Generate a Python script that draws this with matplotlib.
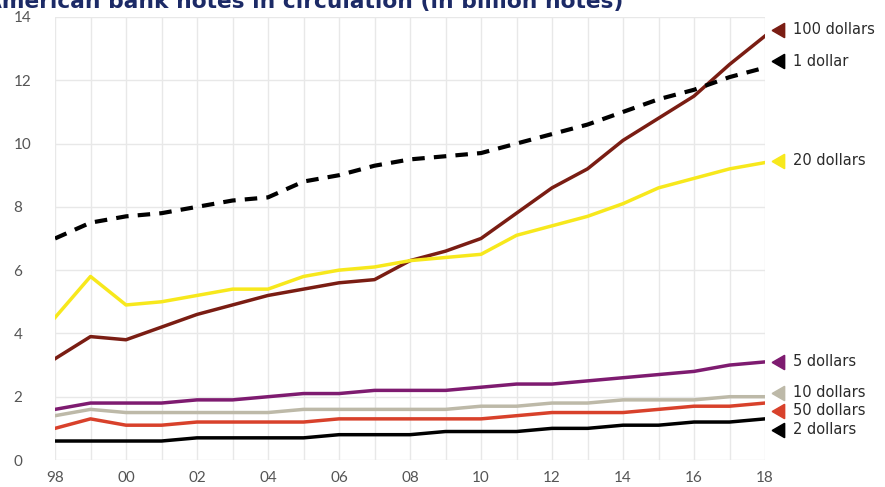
import matplotlib
matplotlib.use("Agg")
import matplotlib.pyplot as plt

years = list(range(1998, 2019))
year_labels = ["98", "00", "02", "04", "06", "08", "10", "12", "14", "16", "18"]

usd100 = [3.2, 3.9, 3.8, 4.2, 4.6, 4.9, 5.2, 5.4, 5.6, 5.7, 6.3, 6.6, 7.0, 7.8, 8.6, 9.2, 10.1, 10.8, 11.5, 12.5, 13.4]
usd1 = [7.0, 7.5, 7.7, 7.8, 8.0, 8.2, 8.3, 8.8, 9.0, 9.3, 9.5, 9.6, 9.7, 10.0, 10.3, 10.6, 11.0, 11.4, 11.7, 12.1, 12.4]
usd20 = [4.5, 5.8, 4.9, 5.0, 5.2, 5.4, 5.4, 5.8, 6.0, 6.1, 6.3, 6.4, 6.5, 7.1, 7.4, 7.7, 8.1, 8.6, 8.9, 9.2, 9.4]
usd5 = [1.6, 1.8, 1.8, 1.8, 1.9, 1.9, 2.0, 2.1, 2.1, 2.2, 2.2, 2.2, 2.3, 2.4, 2.4, 2.5, 2.6, 2.7, 2.8, 3.0, 3.1]
usd10 = [1.4, 1.6, 1.5, 1.5, 1.5, 1.5, 1.5, 1.6, 1.6, 1.6, 1.6, 1.6, 1.7, 1.7, 1.8, 1.8, 1.9, 1.9, 1.9, 2.0, 2.0]
usd50 = [1.0, 1.3, 1.1, 1.1, 1.2, 1.2, 1.2, 1.2, 1.3, 1.3, 1.3, 1.3, 1.3, 1.4, 1.5, 1.5, 1.5, 1.6, 1.7, 1.7, 1.8]
usd2 = [0.6, 0.6, 0.6, 0.6, 0.7, 0.7, 0.7, 0.7, 0.8, 0.8, 0.8, 0.9, 0.9, 0.9, 1.0, 1.0, 1.1, 1.1, 1.2, 1.2, 1.3]

series_names = ["100 dollars", "1 dollar", "20 dollars", "5 dollars", "10 dollars", "50 dollars", "2 dollars"]
series_values = [usd100, usd1, usd20, usd5, usd10, usd50, usd2]
colors = ["#7a1d13", "#000000", "#f7e81c", "#7e1b70", "#bdb9a8", "#d8412b", "#000000"]
styles = ["-", "--", "-", "-", "-", "-", "-"]
label_y = [13.6, 12.6, 9.45, 3.1, 2.12, 1.55, 0.95]

plt.rcParams['font.family'] = ['Lato', 'DejaVu Sans']

fig = plt.figure(figsize=(8.85, 4.87), dpi=100)
ax = fig.add_axes([55/885, 27/487, 710/885, 443/487])

for name, vals, c, ls in zip(series_names, series_values, colors, styles):
    if ls == "--":
        ax.plot(years, vals, color=c, lw=3.0, ls=(0, (3.0, 2.2)), solid_capstyle='butt', zorder=3)
    else:
        ax.plot(years, vals, color=c, lw=2.5, ls=ls, zorder=3, solid_joinstyle='round')

for name, c, ly in zip(series_names, colors, label_y):
    ax.plot([2018.42], [ly], marker=(3, 0, 90), color=c, markersize=12, clip_on=False, zorder=4)
    ax.text(2018.78, ly, name, fontsize=10.5, color="#2a2a2a", va="center", ha="left",
            clip_on=False, family="DejaVu Sans")

ax.set_xlim(1998, 2018)
ax.set_ylim(0, 14)
ax.set_xticks(list(range(1998, 2019, 2)))
ax.set_xticklabels(year_labels)
ax.set_xticks(years, minor=True)
ax.set_yticks(range(0, 15, 2))
ax.grid(True, which="both", color="#e8e8e8", lw=1.0, zorder=0)
for s in ax.spines.values():
    s.set_visible(False)
ax.tick_params(which="both", length=0, colors="#555555", labelsize=11)
ax.tick_params(axis="y", pad=30)
ax.tick_params(axis="x", pad=8)
for lab in ax.get_yticklabels():
    lab.set_horizontalalignment("left")

fig.text(-15/885, 1 - 8/487, "American bank notes in circulation (in billion notes)",
         fontsize=15.7, fontweight="bold", color="#1c2a66", va="baseline", ha="left",
         family="DejaVu Sans")

fig.savefig("out.png", dpi=100)
